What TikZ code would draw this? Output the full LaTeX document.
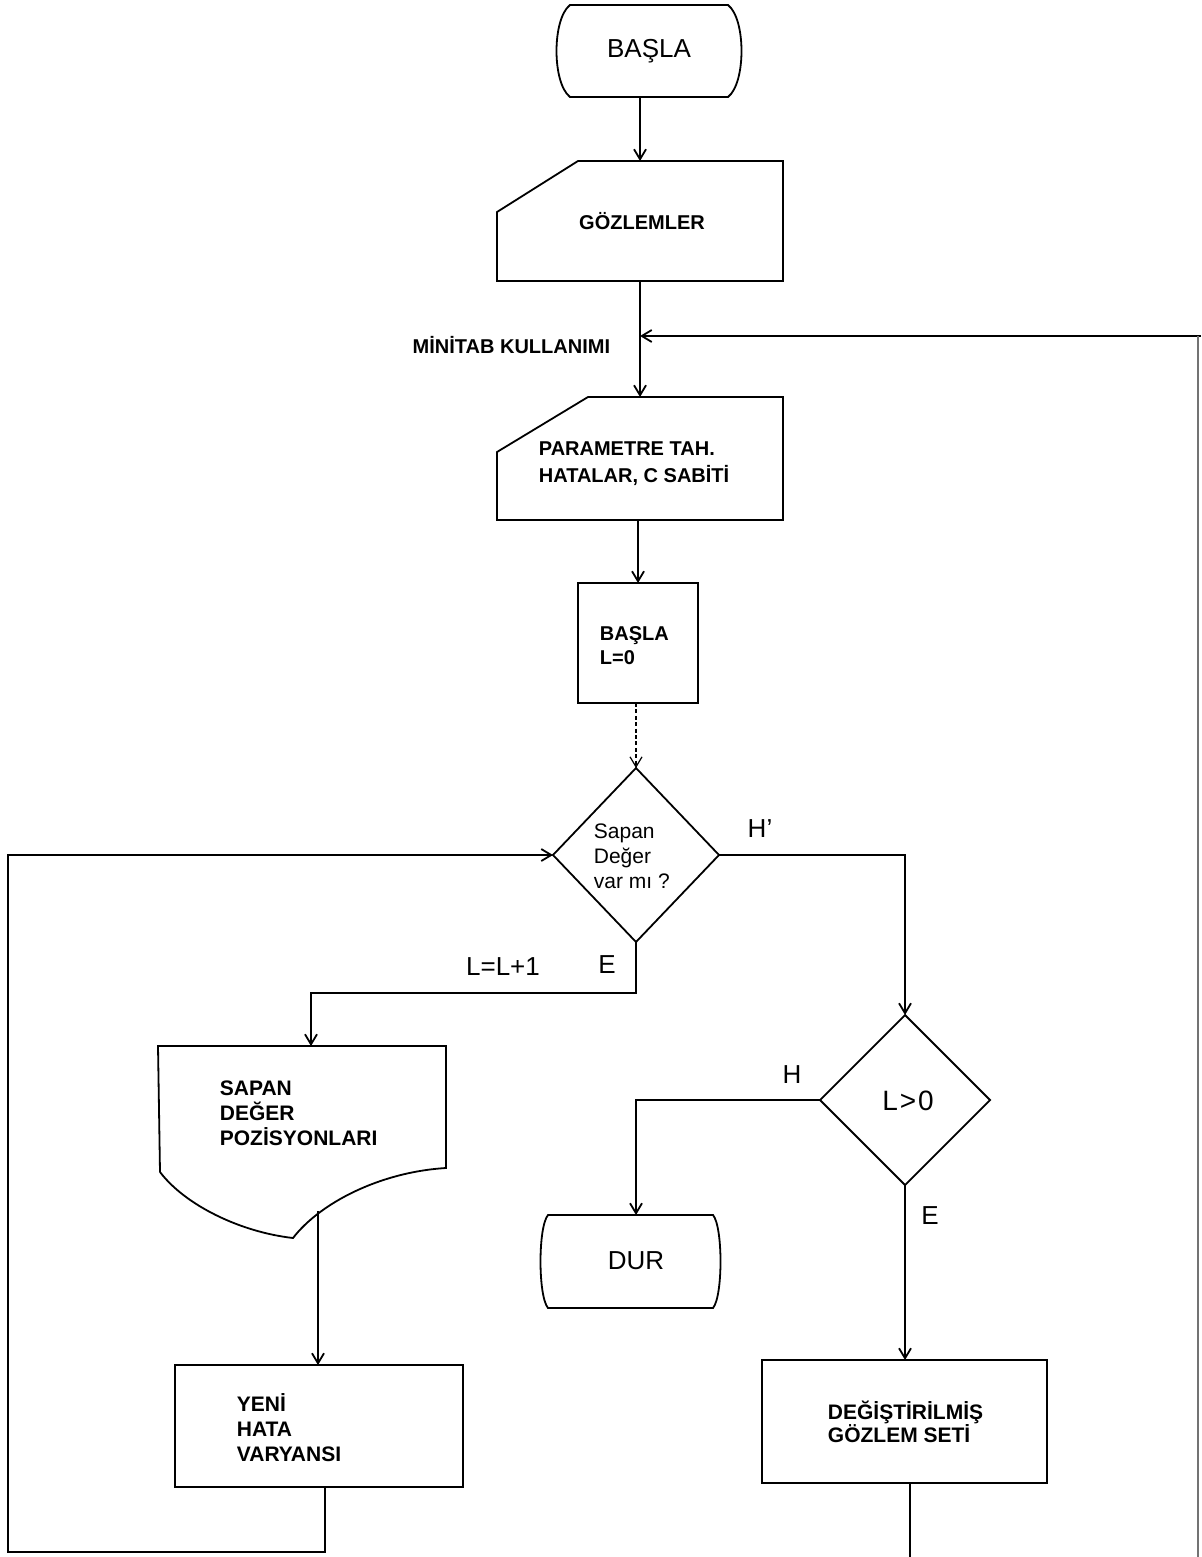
\documentclass[tikz,border=0pt]{standalone}
\usepackage{fontspec}
\setmainfont{Liberation Sans}
\usetikzlibrary{arrows.meta,calc}
\begin{document}
\begin{tikzpicture}[x=0.5pt,y=-0.5pt,line width=0.9pt,
  anch/.style={draw=none,inner sep=0pt,outer sep=0pt,rectangle},
  arr/.style={-{Straight Barb[length=5pt,width=6pt]}},
  bl/.style={font=\fontsize{10.5}{12.5}\selectfont\bfseries,align=left,inner sep=0pt},
  rg/.style={font=\fontsize{13}{15}\selectfont,inner sep=0pt},
  sm/.style={font=\fontsize{10.5}{12.5}\selectfont,align=left,inner sep=0pt},
  faint/.style={line width=0.6pt,black!55}]
\useasboundingbox[fill=white] (0,0) rectangle (1201,1557);

% ---------- anchor nodes ----------
\node[anch,minimum width=87pt,minimum height=46pt] (basla) at (649,51) {};
\node[anch,minimum width=143pt,minimum height=60pt] (gozlem) at (640,221) {};
\node[anch,minimum width=143pt,minimum height=61.5pt] (param) at (640,458.5) {};
\node[anch,minimum width=60pt,minimum height=60pt] (sb) at (638,643) {};
\node[anch,minimum width=83pt,minimum height=87pt] (d1) at (636,855) {};
\node[anch,minimum width=85pt,minimum height=85pt] (d2) at (905,1100) {};
\node[anch,minimum width=86.5pt,minimum height=46.5pt] (dur) at (630.5,1261.5) {};
\node[anch,minimum width=144pt,minimum height=61pt] (doc) at (302,1107) {};
\node[anch,minimum width=144pt,minimum height=61pt] (yeni) at (319,1426) {};
\node[anch,minimum width=142.5pt,minimum height=61.5pt] (degis) at (904.5,1421.5) {};

% ---------- shapes ----------
% terminal BASLA
\draw ($(basla.north west)+(8,0)$) -- ($(basla.north east)+(-8,0)$)
  .. controls ($(basla.north east)+(10,14)$) and ($(basla.south east)+(10,-14)$) .. ($(basla.south east)+(-8,0)$)
  -- ($(basla.south west)+(8,0)$)
  .. controls ($(basla.south west)+(-10,-14)$) and ($(basla.north west)+(-10,14)$) .. cycle;
% manual input GOZLEMLER
\draw ($(gozlem.north west)+(81,0)$) -- (gozlem.north east) -- (gozlem.south east)
  -- (gozlem.south west) -- ($(gozlem.north west)+(0,51)$) -- cycle;
% manual input PARAMETRE
\draw ($(param.north west)+(91,0)$) -- (param.north east) -- (param.south east)
  -- (param.south west) -- ($(param.north west)+(0,55)$) -- cycle;
% process BASLA L=0
\draw (sb.north west) rectangle (sb.south east);
% decision 1
\draw (d1.north) -- (d1.east) -- (d1.south) -- (d1.west) -- cycle;
% decision 2
\draw (d2.north) -- (d2.east) -- (d2.south) -- (d2.west) -- cycle;
% terminal DUR
\draw ($(dur.north west)+(4,0)$) -- ($(dur.north east)+(-4,0)$)
  .. controls ($(dur.north east)+(6,12)$) and ($(dur.south east)+(6,-12)$) .. ($(dur.south east)+(-4,0)$)
  -- ($(dur.south west)+(4,0)$)
  .. controls ($(dur.south west)+(-6,-12)$) and ($(dur.north west)+(-6,12)$) .. cycle;
% document shape
\coordinate (doctip) at (293,1238);
\coordinate (docout) at (318,1211);
\draw ($(doc.south west)+(2,4)$) -- (doc.north west) -- (doc.north east) -- (doc.south east)
  .. controls (380,1172) and (320,1203) .. (doctip)
  .. controls (240,1232) and (185,1205) .. ($(doc.south west)+(2,4)$);
% process YENI
\draw (yeni.north west) rectangle (yeni.south east);
% process DEGISTIRILMIS
\draw (degis.north west) rectangle (degis.south east);

% ---------- texts ----------
\node[rg] (tbasla) at (649,51) {BAŞLA};
\node[bl,font=\fontsize{10}{12}\selectfont\bfseries] (tgoz) at (642,221) {GÖZLEMLER};
\node[bl,font=\fontsize{10}{12}\selectfont\bfseries,anchor=east] (tmin) at (611,345) {MİNİTAB KULLANIMI};
\node[bl,font=\fontsize{10}{13.5}\selectfont\bfseries,anchor=west] (tparam) at (538,464) {PARAMETRE TAH.\\HATALAR, C SABİTİ};
\node[bl,font=\fontsize{10}{12}\selectfont\bfseries,anchor=west] (tsb) at (599,646) {BAŞLA\\L=0};
\node[sm,anchor=west] (td1) at (593,856) {Sapan\\Değer\\var mı ?};
\node[rg] (th1) at (760,829) {H'};
\node[rg] (te1) at (607,965) {E};
\node[rg] (tll) at (503,967) {L=L+1};
\node[rg,font=\fontsize{14}{16}\selectfont] (td2) at (908,1101) {L\kern1pt>\kern1pt0};
\node[rg] (th2) at (792,1075) {H};
\node[rg] (tdur) at (636,1261) {DUR};
\node[rg] (te2) at (930,1216) {E};
\node[bl,anchor=west] (tdoc) at (219,1113) {SAPAN\\DEĞER\\POZİSYONLARI};
\node[bl,anchor=west] (tyeni) at (236,1428) {YENİ\\HATA\\VARYANSI};
\node[bl,font=\fontsize{10.5}{11.5}\selectfont\bfseries,anchor=west] (tdegis) at (827,1422) {DEĞİŞTİRİLMİŞ\\GÖZLEM SETİ};

% ---------- coordinates for connector ends ----------
\coordinate (minin) at (640,336);
\coordinate (rtop) at (1201,336);
\coordinate (rline) at (1198,336);
\coordinate (rb) at (1198,1557);
\coordinate (jn) at (636,993);
\coordinate (docin) at (311,1046);
\coordinate (durin) at (636,1215);
\coordinate (yout) at (325,1487);
\coordinate (lc) at (8,1552);
\coordinate (dout) at (910,1483);
\coordinate (dend) at (910,1557);

% ---------- connectors ----------
\draw[arr] (basla.south -| gozlem.north) -- (gozlem.north);
\draw[arr] (gozlem.south) -- (param.north);
\draw[arr] (rtop) -- (minin);
\draw[faint] (rline) -- (rb);
\draw[arr] (param.south -| sb.north) -- (sb.north);
\draw[arr,line width=0.6pt,dash pattern=on 2pt off 1.2pt] (sb.south -| d1.north) -- (d1.north);
\draw[arr] (d1.east) -| (d2.north);
\draw[arr] (d1.south) -- (jn) -| (docin);
\draw[arr] (d2.west) -| (durin);
\draw[arr] (d2.south) -- (d2.south |- degis.north);
\draw[arr] (docout) -- (docout |- yeni.north);
\draw[arr] (yout) -- (yout |- lc) -- (lc) |- (d1.west);
\draw (dout) -- (dend);
\end{tikzpicture}
\end{document}
